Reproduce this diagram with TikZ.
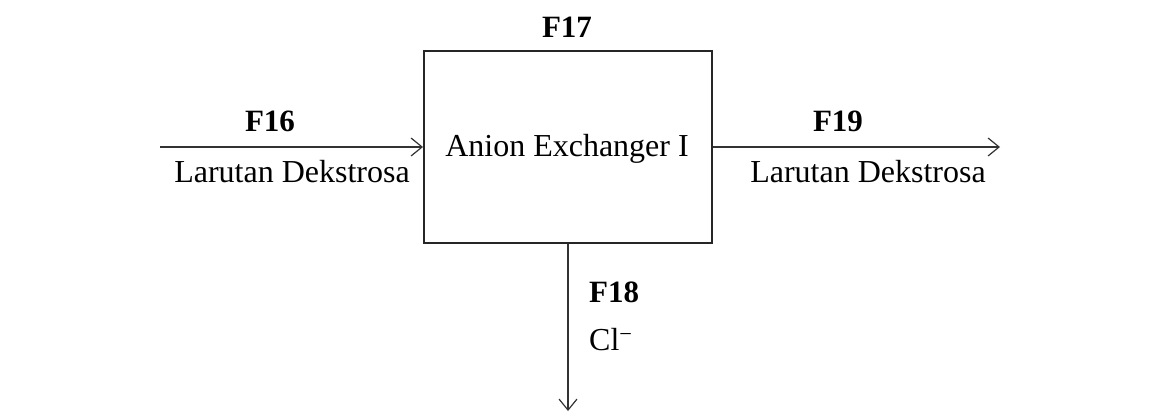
\documentclass[tikz,border=0pt]{standalone}
\usepackage{fontspec}
\setmainfont{Liberation Serif}
\usetikzlibrary{arrows.meta}
\begin{document}
\begin{tikzpicture}[x=1pt,y=-1pt,
  txt/.style={font=\fontsize{32}{36}\selectfont, inner sep=0pt},
  lbl/.style={font=\fontsize{31}{35}\selectfont\bfseries, inner sep=0pt},
  flow/.style={line width=1.4pt, draw=black!80, -{Straight Barb[length=11pt,width=18pt,line width=1.2pt]}},
  unit/.style={draw=black!85, line width=2pt, minimum width=288pt, minimum height=192pt, inner sep=0pt}]
\useasboundingbox (0,0) rectangle (1151,412);
\node[unit] (box) at (568,147) {};
\node[txt] (name) at (567,149) {Anion Exchanger I};
\coordinate (in) at (160,147);
\coordinate (out) at (1000,147);
\coordinate (down) at (568,411);
\draw[flow] (in) -- (in -| box.west);
\draw[flow] (box.east |- out) -- (out);
\draw[flow] (box.south) -- (down);
\node[lbl] (f17) at (567,27) {F17};
\node[lbl] (f16) at (270,121) {F16};
\node[txt] (l16) at (292,172) {Larutan Dekstrosa};
\node[lbl] (f19) at (838,121) {F19};
\node[txt] (l19) at (868,172) {Larutan Dekstrosa};
\node[lbl, anchor=west] (f18) at (589,292) {F18};
\node[txt, anchor=west] (cl) at (589,340) {Cl\textsuperscript{−}};
\end{tikzpicture}
\end{document}
